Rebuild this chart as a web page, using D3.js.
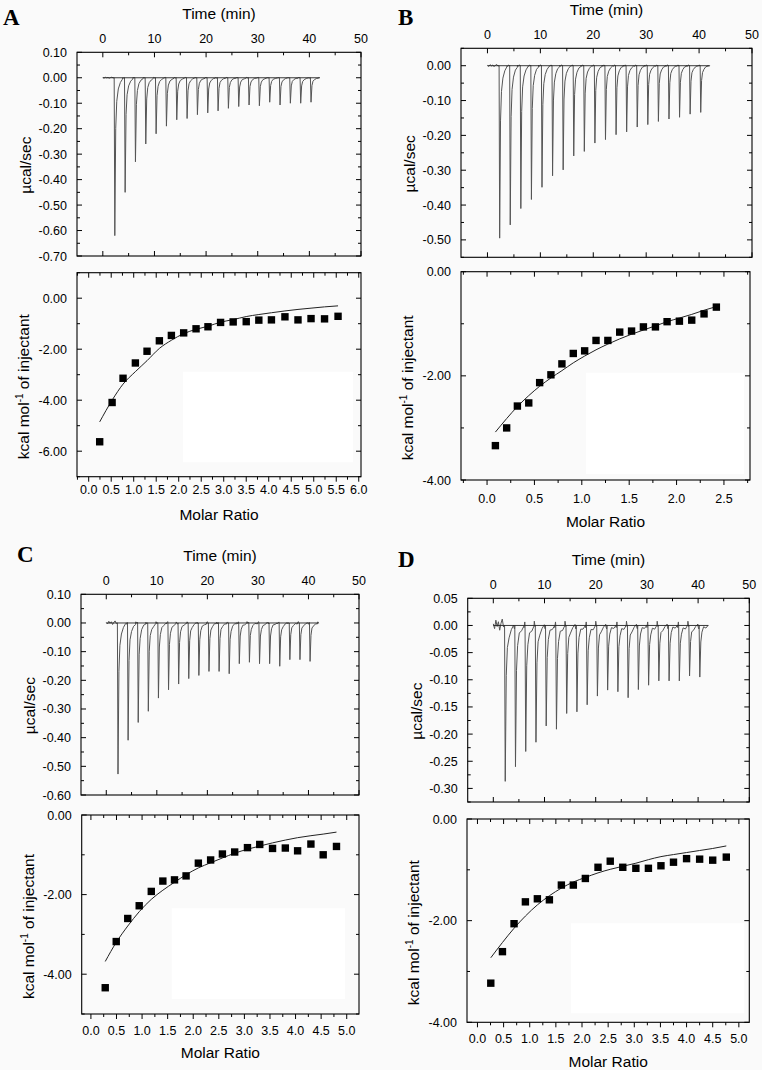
<!DOCTYPE html>
<html><head><meta charset="utf-8">
<script src="https://cdn.jsdelivr.net/npm/d3@7"></script>
<style>html,body{margin:0;padding:0;background:#fafafa;} svg{display:block;}</style>
</head><body><svg id="c" width="762" height="1070"></svg>
<script>
// ---------------- DATA ----------------
const injectionTimes = [2.2,4.2,6.2,8.2,10.2,12.2,14.2,16.2,18.2,20.2,22.2,24.2,26.2,28.2,30.2,32.2,34.2,36.2,38.2,40.2];
const traceEnd = 42;

const peaksA = [-0.62,-0.45,-0.33,-0.26,-0.22,-0.19,-0.165,-0.16,-0.145,-0.138,-0.13,-0.12,-0.113,-0.107,-0.11,-0.096,-0.107,-0.10,-0.10,-0.096];
const peaksB = [-0.495,-0.457,-0.41,-0.384,-0.349,-0.316,-0.299,-0.259,-0.246,-0.222,-0.212,-0.198,-0.19,-0.176,-0.169,-0.16,-0.153,-0.148,-0.139,-0.134];
const peaksC = [-0.527,-0.409,-0.347,-0.308,-0.262,-0.233,-0.213,-0.194,-0.183,-0.169,-0.169,-0.177,-0.142,-0.137,-0.142,-0.142,-0.151,-0.128,-0.128,-0.134];
const peaksD = [-0.287,-0.26,-0.232,-0.215,-0.185,-0.191,-0.162,-0.159,-0.146,-0.13,-0.119,-0.122,-0.133,-0.118,-0.11,-0.102,-0.102,-0.102,-0.093,-0.095];

// peak shape (time after injection, fraction of peak) and baseline wiggle pattern
const peakProfile = [[0,0],[0.12,1],[0.3,0.32],[0.5,0.15],[0.8,0.07],[1.2,0.03],[1.6,0.01]];
const baselineWiggle = [0.3,-0.6,1.0,-0.2,0.7,-0.9,0.4,1.2,-0.3,0.6,-0.7,0.2,0.9,-0.4,-1.0,0.5,1.1,-0.5];
const noiseLevel = [0.0012, 0.002, 0.004, 0.0065];

const ratioA = [0.244,0.52,0.763,1.037,1.296,1.57,1.837,2.11,2.385,2.65,2.93,3.21,3.50,3.78,4.06,4.36,4.65,4.94,5.24,5.54];
const heatA  = [-5.63,-4.09,-3.14,-2.54,-2.08,-1.67,-1.46,-1.36,-1.20,-1.12,-0.95,-0.93,-0.92,-0.86,-0.85,-0.73,-0.85,-0.80,-0.81,-0.71];
const fitA   = [-4.85,-4.0,-3.37,-2.88,-2.45,-1.97,-1.65,-1.39,-1.22,-1.10,-0.94,-0.84,-0.72,-0.64,-0.57,-0.50,-0.44,-0.39,-0.34,-0.30];

const ratioB = [0.088,0.207,0.32,0.44,0.555,0.674,0.79,0.91,1.03,1.15,1.275,1.40,1.525,1.65,1.777,1.90,2.03,2.16,2.29,2.42];
const heatB  = [-3.34,-3.00,-2.58,-2.52,-2.13,-1.98,-1.77,-1.57,-1.52,-1.32,-1.32,-1.16,-1.14,-1.06,-1.06,-0.96,-0.95,-0.93,-0.81,-0.68];
const fitB   = [-3.08,-2.82,-2.59,-2.38,-2.20,-2.04,-1.90,-1.75,-1.62,-1.50,-1.39,-1.29,-1.20,-1.12,-1.04,-0.96,-0.89,-0.82,-0.74,-0.67];

const ratioC = [0.28,0.495,0.72,0.944,1.18,1.406,1.634,1.86,2.10,2.34,2.57,2.81,3.06,3.30,3.55,3.80,4.04,4.30,4.54,4.80];
const heatC  = [-4.34,-3.18,-2.60,-2.28,-1.92,-1.66,-1.63,-1.53,-1.21,-1.13,-0.98,-0.93,-0.82,-0.74,-0.84,-0.83,-0.90,-0.73,-1.00,-0.79];
const fitC   = [-3.68,-3.20,-2.79,-2.43,-2.12,-1.89,-1.69,-1.50,-1.33,-1.20,-1.08,-0.96,-0.86,-0.78,-0.70,-0.63,-0.57,-0.52,-0.48,-0.43];

const ratioD = [0.255,0.478,0.70,0.917,1.146,1.376,1.605,1.834,2.064,2.306,2.54,2.78,3.03,3.27,3.51,3.75,4.0,4.25,4.50,4.76];
const heatD  = [-3.23,-2.61,-2.06,-1.63,-1.57,-1.59,-1.30,-1.30,-1.17,-0.95,-0.83,-0.95,-0.97,-0.97,-0.92,-0.85,-0.78,-0.79,-0.81,-0.75];
const fitD   = [-2.73,-2.43,-2.15,-1.91,-1.69,-1.51,-1.36,-1.24,-1.15,-1.06,-0.99,-0.93,-0.87,-0.80,-0.74,-0.70,-0.66,-0.62,-0.58,-0.53];

const timeTicks = [0,10,20,30,40,50];
const powerTicksA = [0.10,0.00,-0.10,-0.20,-0.30,-0.40,-0.50,-0.60,-0.70];
const powerTicksB = [0.00,-0.10,-0.20,-0.30,-0.40,-0.50];
const powerTicksC = [0.10,0.00,-0.10,-0.20,-0.30,-0.40,-0.50,-0.60];
const powerTicksD = [0.05,0.00,-0.05,-0.10,-0.15,-0.20,-0.25,-0.30];
const heatTicksA = [0.00,-2.00,-4.00,-6.00];
const heatTicksB = [0.00,-2.00,-4.00];
const heatTicksC = [0.00,-2.00,-4.00];
const heatTicksD = [0.00,-2.00,-4.00];
const ratioTicksA = [0.0,0.5,1.0,1.5,2.0,2.5,3.0,3.5,4.0,4.5,5.0,5.5,6.0];
const ratioTicksB = [0.0,0.5,1.0,1.5,2.0,2.5];
const ratioTicksC = [0.0,0.5,1.0,1.5,2.0,2.5,3.0,3.5,4.0,4.5,5.0];
const ratioTicksD = [0.0,0.5,1.0,1.5,2.0,2.5,3.0,3.5,4.0,4.5,5.0];

// ---------------- LAYOUT ----------------
const panels = [
  {letter:'A', lx:3, ly:25, peaks:peaksA, noise:noiseLevel[0], w:1.0,
   up:{x0:77,x1:361,y0:52.3,y1:256,yDom:[-0.7,0.1],yTicks:powerTicksA,yMinor:0.05},
   lo:{x0:77,x1:361,y0:272.7,y1:476.7,xDom:[-0.26,6.05],yDom:[-7,1],xTicks:ratioTicksA,yTicks:heatTicksA,xMinor:0.25,yMinor:1,
       lab:17,title:43.5,rect:[183,371.7,353,462.3]},
   ratio:ratioA, heat:heatA, fit:fitA},
  {letter:'B', lx:398, ly:25, peaks:peaksB, noise:noiseLevel[1], w:0.9,
   up:{x0:461,x1:752,y0:48.3,y1:257.3,yDom:[-0.55,0.05],yTicks:powerTicksB,yMinor:0.05},
   lo:{x0:461,x1:750,y0:271.7,y1:480,xDom:[-0.275,2.775],yDom:[-4,0],xTicks:ratioTicksB,yTicks:heatTicksB,xMinor:0.25,yMinor:1,
       lab:22.5,title:47,rect:[586,372.7,744,474]},
   ratio:ratioB, heat:heatB, fit:fitB},
  {letter:'C', lx:17, ly:562, peaks:peaksC, noise:noiseLevel[2], w:1.0,
   up:{x0:81,x1:359,y0:594.3,y1:795,yDom:[-0.6,0.1],yTicks:powerTicksC,yMinor:0.05},
   lo:{x0:81.7,x1:359,y0:815,y1:1014,xDom:[-0.18,5.24],yDom:[-5,0],xTicks:ratioTicksC,yTicks:heatTicksC,xMinor:0.25,yMinor:1,
       lab:20.5,title:44,rect:[171.7,908.3,345,999]},
   ratio:ratioC, heat:heatC, fit:fitC},
  {letter:'D', lx:398, ly:567, peaks:peaksD, noise:noiseLevel[3], w:1.1,
   up:{x0:467.7,x1:749.3,y0:598.3,y1:802,yDom:[-0.325,0.05],yTicks:powerTicksD,yMinor:0.025},
   lo:{x0:467,x1:749.3,y0:819,y1:1022.3,xDom:[-0.2,5.2],yDom:[-4,0],xTicks:ratioTicksD,yTicks:heatTicksD,xMinor:0.25,yMinor:1,
       lab:21,title:45,rect:[571,923.3,744.3,1013.3]},
   ratio:ratioD, heat:heatD, fit:fitD}
];

const FONT = '"Liberation Sans", Arial, Helvetica, sans-serif';
const svg = d3.select('#c');
svg.append('rect').attr('width',762).attr('height',1070).attr('fill','#fafafa');

function multiples(dom, step){
  const lo = Math.min(dom[0],dom[1]), hi = Math.max(dom[0],dom[1]);
  const out=[];
  for(let k=Math.ceil(lo/step-1e-6); k<=Math.floor(hi/step+1e-6); k++) out.push(+(k*step).toFixed(6));
  return out;
}
function fmt(v,d){ const s=Math.abs(v)<1e-9?0:v; return s.toFixed(d); }

function ticksLine(g, pts){
  g.selectAll(null).data(pts).enter().append('line')
   .attr('x1',d=>d[0]).attr('y1',d=>d[1]).attr('x2',d=>d[2]).attr('y2',d=>d[3])
   .attr('stroke','#000').attr('stroke-width',1);
}

function buildTrace(peaks, amp, w){
  const pts=[]; let k=0;
  const nz=()=>baselineWiggle[(k++)%baselineWiggle.length]*amp;
  for(let t=0;t<injectionTimes[0]-0.1;t+=0.25) pts.push({t, v:nz()*1.5});
  injectionTimes.forEach((t0,i)=>{
    const p=peaks[i];
    peakProfile.forEach(([dt,f])=>pts.push({t:t0+dt*w, v:f*p + (f<0.2 && f>0 ? nz()*0.6 : 0)}));
    const tEnd = i<injectionTimes.length-1 ? injectionTimes[i+1]-0.05 : traceEnd;
    const tStart = t0+1.6*w+0.05;
    if(tEnd>tStart){
      const n = Math.max(2, Math.round((tEnd-tStart)/0.1));
      for(let j=0;j<n;j++){ const t=tStart+(tEnd-tStart)*j/(n-1); pts.push({t, v:nz()}); }
    }
  });
  return pts;
}

panels.forEach((P,pi)=>{
  const g = svg.append('g');
  g.append('text').attr('x',P.lx).attr('y',P.ly).text(P.letter)
   .attr('font-family','"Liberation Serif", "Times New Roman", serif').attr('font-weight','bold').attr('font-size',23);

  // ---------- upper panel ----------
  const U=P.up;
  const xt = d3.scaleLinear().domain([-5,50]).range([U.x0,U.x1]);
  const yp = d3.scaleLinear().domain(U.yDom).range([U.y1,U.y0]);
  g.append('rect').attr('x',U.x0).attr('y',U.y0).attr('width',U.x1-U.x0).attr('height',U.y1-U.y0)
   .attr('fill','none').attr('stroke','#000').attr('stroke-width',1.1);
  const tMaj = timeTicks, tMin = multiples([-5,50],5).filter(v=>!tMaj.includes(v) && v>-5 && v<50);
  const tk=[];
  tMaj.forEach(v=>{const x=xt(v); tk.push([x,U.y0,x,U.y0+5],[x,U.y1,x,U.y1-5]);});
  tMin.forEach(v=>{const x=xt(v); tk.push([x,U.y0,x,U.y0+3],[x,U.y1,x,U.y1-3]);});
  const pMin = multiples(U.yDom,U.yMinor).filter(v=>!U.yTicks.some(t=>Math.abs(t-v)<1e-6));
  U.yTicks.forEach(v=>{const y=yp(v); tk.push([U.x0,y,U.x0+5,y],[U.x1,y,U.x1-5,y]);});
  pMin.forEach(v=>{const y=yp(v); tk.push([U.x0,y,U.x0+3,y],[U.x1,y,U.x1-3,y]);});
  ticksLine(g,tk);
  g.selectAll(null).data(tMaj).enter().append('text')
   .attr('x',d=>xt(d)).attr('y',U.y0-9).attr('text-anchor','middle')
   .attr('font-family',FONT).attr('font-size',12.5).text(d=>d);
  g.selectAll(null).data(U.yTicks).enter().append('text')
   .attr('x',U.x0-10).attr('y',d=>yp(d)+4.5).attr('text-anchor','end')
   .attr('font-family',FONT).attr('font-size',12.5).text(d=>fmt(d,2));
  g.append('text').attr('x',(U.x0+U.x1)/2).attr('y',U.y0-33).attr('text-anchor','middle')
   .attr('font-family',FONT).attr('font-size',15.5).text('Time (min)');
  g.append('text').attr('transform',`translate(${U.x0-51},${(U.y0+U.y1)/2+11}) rotate(-90)`)
   .attr('text-anchor','middle').attr('dy','0.35em')
   .attr('font-family',FONT).attr('font-size',15.5).text('µcal/sec');
  const tr = buildTrace(P.peaks,P.noise,P.w);
  g.append('path').datum(tr).attr('fill','none').attr('stroke','#555').attr('stroke-width',1)
   .attr('d',d3.line().x(d=>xt(d.t)).y(d=>yp(d.v)));
  g.append('line').attr('x1',xt(0)).attr('x2',xt(traceEnd)).attr('y1',yp(0)).attr('y2',yp(0))
   .attr('stroke','#222').attr('stroke-width',0.9);

  // ---------- lower panel ----------
  const L=P.lo;
  const xr = d3.scaleLinear().domain(L.xDom).range([L.x0,L.x1]);
  const yh = d3.scaleLinear().domain(L.yDom).range([L.y1,L.y0]);
  g.append('rect').attr('x',L.rect[0]).attr('y',L.rect[1]).attr('width',L.rect[2]-L.rect[0]).attr('height',L.rect[3]-L.rect[1])
   .attr('fill','#ffffff');
  g.append('rect').attr('x',L.x0).attr('y',L.y0).attr('width',L.x1-L.x0).attr('height',L.y1-L.y0)
   .attr('fill','none').attr('stroke','#000').attr('stroke-width',1.1);
  const lk=[];
  const rMin = multiples(L.xDom,L.xMinor).filter(v=>!L.xTicks.some(t=>Math.abs(t-v)<1e-6));
  L.xTicks.forEach(v=>{const x=xr(v); lk.push([x,L.y0,x,L.y0+5],[x,L.y1,x,L.y1+5]);});
  rMin.forEach(v=>{const x=xr(v); lk.push([x,L.y0,x,L.y0+3],[x,L.y1,x,L.y1+3]);});
  const hMin = multiples(L.yDom,L.yMinor).filter(v=>!L.yTicks.some(t=>Math.abs(t-v)<1e-6));
  L.yTicks.forEach(v=>{const y=yh(v); lk.push([L.x0,y,L.x0+5,y],[L.x1,y,L.x1-5,y]);});
  hMin.forEach(v=>{const y=yh(v); lk.push([L.x0,y,L.x0+3,y],[L.x1,y,L.x1-3,y]);});
  ticksLine(g,lk);
  g.selectAll(null).data(L.xTicks).enter().append('text')
   .attr('x',d=>xr(d)).attr('y',L.y1+L.lab).attr('text-anchor','middle')
   .attr('font-family',FONT).attr('font-size',12.5).text(d=>fmt(d,1));
  g.selectAll(null).data(L.yTicks).enter().append('text')
   .attr('x',L.x0-10).attr('y',d=>yh(d)+4.5).attr('text-anchor','end')
   .attr('font-family',FONT).attr('font-size',12.5).text(d=>fmt(d,2));
  g.append('text').attr('x',(L.x0+L.x1)/2).attr('y',L.y1+L.title).attr('text-anchor','middle')
   .attr('font-family',FONT).attr('font-size',15.5).text('Molar Ratio');
  const yl = g.append('text').attr('transform',`translate(${L.x0-53},${(L.y0+L.y1)/2+12}) rotate(-90)`)
   .attr('text-anchor','middle').attr('dy','0.35em')
   .attr('font-family',FONT).attr('font-size',15.5);
  yl.append('tspan').text('kcal mol');
  yl.append('tspan').attr('font-size',10).attr('dy',-6).text('-1');
  yl.append('tspan').attr('dy',6).text(' of injectant');
  const fd = P.ratio.map((r,i)=>({x:r,y:P.fit[i]}));
  g.append('path').datum(fd).attr('fill','none').attr('stroke','#222').attr('stroke-width',1)
   .attr('d',d3.line().curve(d3.curveMonotoneX).x(d=>xr(d.x)).y(d=>yh(d.y)));
  const pd = P.ratio.map((r,i)=>({x:r,y:P.heat[i]}));
  const s=7.4;
  g.selectAll(null).data(pd).enter().append('rect')
   .attr('x',d=>xr(d.x)-s/2).attr('y',d=>yh(d.y)-s/2).attr('width',s).attr('height',s).attr('fill','#000');
});
</script></body></html>
